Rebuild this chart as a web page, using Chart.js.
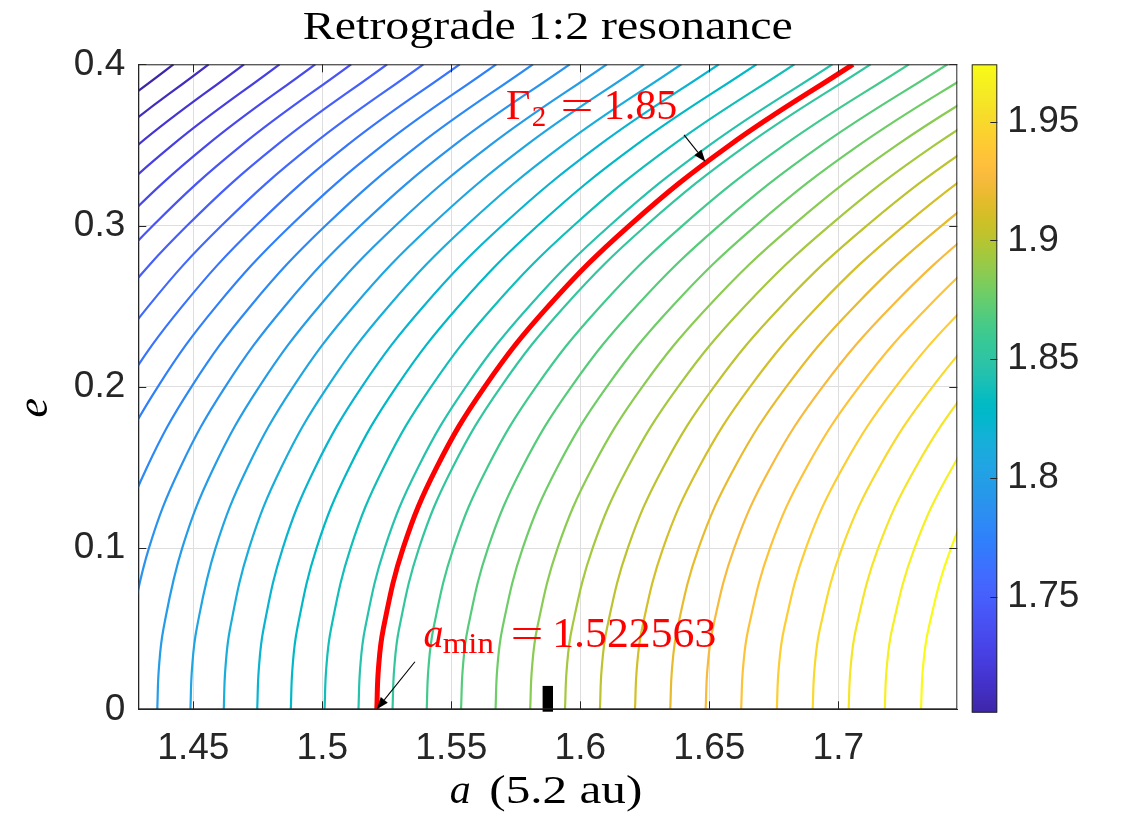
<!DOCTYPE html>
<html><head><meta charset="utf-8">
<script src="https://cdn.jsdelivr.net/npm/chart.js@4.4.0/dist/chart.umd.min.js"></script>
<style>
html,body{margin:0;padding:0;background:#fff;}
#wrap{position:relative;width:1132px;height:829px;overflow:hidden;background:#fff;}
#main{position:absolute;left:0;top:0;}
#cbar{position:absolute;left:950px;top:0;}
</style></head><body>
<div id="wrap"><canvas id="main" width="1132" height="829"></canvas><canvas id="cbar" width="182" height="829"></canvas></div>
<script>
// ---------------- data ----------------
const titleText = 'Retrograde 1:2 resonance';
const eGrid = [0, 0.025, 0.05, 0.1, 0.15, 0.2, 0.25, 0.3, 0.35, 0.4];
// contour levels of Gamma_2 (35 levels)
const levels = [1.70114,1.70917,1.71720,1.72523,1.73325,1.74128,1.74931,1.75734,1.76537,1.77340,
  1.78142,1.78945,1.79748,1.80551,1.81354,1.82156,1.82959,1.83762,1.84565,1.85368,
  1.86170,1.86973,1.87776,1.88579,1.89382,1.90185,1.90987,1.91790,1.92593,1.93396,
  1.94199,1.95001,1.95804,1.96607,1.97410];
// semi-major axis of each contour at the eccentricities of eGrid
const contourA = [
 [1.28621,1.28675,1.28836,1.29485,1.30584,1.32157,1.34245,1.36900,1.40195,1.44229],
 [1.29838,1.29892,1.30055,1.30710,1.31819,1.33408,1.35515,1.38195,1.41521,1.45594],
 [1.31061,1.31116,1.31280,1.31941,1.33061,1.34664,1.36791,1.39497,1.42854,1.46965],
 [1.32289,1.32344,1.32510,1.33178,1.34308,1.35926,1.38073,1.40804,1.44193,1.48342],
 [1.33523,1.33579,1.33746,1.34420,1.35560,1.37194,1.39361,1.42117,1.45538,1.49726],
 [1.34763,1.34819,1.34988,1.35668,1.36819,1.38468,1.40655,1.43437,1.46890,1.51116],
 [1.36008,1.36065,1.36235,1.36922,1.38083,1.39747,1.41955,1.44762,1.48247,1.52512],
 [1.37260,1.37317,1.37489,1.38182,1.39354,1.41034,1.43261,1.46095,1.49611,1.53916],
 [1.38517,1.38575,1.38748,1.39447,1.40631,1.42325,1.44573,1.47433,1.50981,1.55326],
 [1.39779,1.39837,1.40013,1.40718,1.41912,1.43622,1.45890,1.48776,1.52357,1.56741],
 [1.41048,1.41107,1.41284,1.41995,1.43200,1.44926,1.47215,1.50127,1.53740,1.58164],
 [1.42322,1.42381,1.42560,1.43278,1.44494,1.46235,1.48545,1.51483,1.55129,1.59592],
 [1.43602,1.43662,1.43842,1.44567,1.45793,1.47550,1.49881,1.52845,1.56524,1.61028],
 [1.44887,1.44947,1.45129,1.45860,1.47098,1.48870,1.51222,1.54213,1.57925,1.62469],
 [1.46179,1.46240,1.46423,1.47161,1.48409,1.50198,1.52570,1.55588,1.59333,1.63918],
 [1.47476,1.47538,1.47722,1.48467,1.49726,1.51530,1.53924,1.56968,1.60746,1.65372],
 [1.48778,1.48840,1.49027,1.49777,1.51048,1.52868,1.55283,1.58354,1.62166,1.66832],
 [1.50087,1.50150,1.50338,1.51095,1.52377,1.54213,1.56649,1.59747,1.63592,1.68300],
 [1.51401,1.51464,1.51654,1.52418,1.53711,1.55563,1.58021,1.61146,1.65025,1.69773],
 [1.52721,1.52785,1.52976,1.53747,1.55051,1.56920,1.59398,1.62551,1.66464,1.71253],
 [1.54047,1.54111,1.54304,1.55082,1.56398,1.58282,1.60782,1.63962,1.67909,1.72740],
 [1.55378,1.55443,1.55638,1.56422,1.57749,1.59650,1.62171,1.65379,1.69360,1.74233],
 [1.56715,1.56780,1.56977,1.57768,1.59106,1.61023,1.63567,1.66802,1.70817,1.75732],
 [1.58058,1.58124,1.58322,1.59120,1.60470,1.62403,1.64969,1.68231,1.72281,1.77238],
 [1.59407,1.59474,1.59673,1.60478,1.61839,1.63789,1.66377,1.69667,1.73751,1.78751],
 [1.60761,1.60828,1.61030,1.61841,1.63214,1.65181,1.67790,1.71108,1.75227,1.80269],
 [1.62121,1.62189,1.62392,1.63210,1.64595,1.66578,1.69209,1.72556,1.76709,1.81794],
 [1.63487,1.63555,1.63760,1.64585,1.65982,1.67982,1.70635,1.74010,1.78198,1.83326],
 [1.64859,1.64928,1.65134,1.65966,1.67374,1.69391,1.72067,1.75470,1.79694,1.84864],
 [1.66236,1.66305,1.66514,1.67353,1.68772,1.70806,1.73504,1.76936,1.81195,1.86408],
 [1.67619,1.67689,1.67899,1.68745,1.70177,1.72227,1.74948,1.78408,1.82702,1.87959],
 [1.69007,1.69078,1.69289,1.70142,1.71586,1.73653,1.76396,1.79885,1.84215,1.89516],
 [1.70402,1.70473,1.70687,1.71547,1.73002,1.75087,1.77852,1.81370,1.85736,1.91080],
 [1.71802,1.71874,1.72089,1.72956,1.74423,1.76525,1.79314,1.82860,1.87262,1.92650],
 [1.73208,1.73280,1.73497,1.74371,1.75851,1.77970,1.80781,1.84356,1.88794,1.94227]
];
// highlighted contour Gamma_2 = 1.85
const redLevelText = '1.85';
const redA = [1.52111,1.52174,1.52365,1.53133,1.54432,1.56293,1.58762,1.61902,1.65799,1.70569];
// nominal resonance marker
const resonanceA = [1.5874, 1.5874];
const resonanceE = [-0.0015, 0.0145];
const aMinText = '1.522563';
// annotation anchors (data coordinates)
const gammaLabelAt = [1.5712, 0.3659];
const gammaArrow = [[1.6402, 0.3562], [1.6485, 0.3395]];
const aMinLabelAt = [1.5392, 0.0388];
const aMinArrow = [[1.5359, 0.0295], [1.5211, 0.0]];
// axes
const xRange = [1.428661, 1.746141];
const yRange = [0, 0.4];
const xTicks = [1.45, 1.5, 1.55, 1.6, 1.65, 1.7];
const xTickLabels = ['1.45', '1.5', '1.55', '1.6', '1.65', '1.7'];
const yTicks = [0, 0.1, 0.2, 0.3, 0.4];
const yTickLabels = ['0', '0.1', '0.2', '0.3', '0.4'];
const cbRange = [1.70114, 1.97410];
const cbTicks = [1.75, 1.8, 1.85, 1.9, 1.95];
const cbTickLabels = ['1.75', '1.8', '1.85', '1.9', '1.95'];

// ---------------- styling ----------------
const PARULA = [
[0.2422,0.1504,0.6603],[0.2504,0.1650,0.7076],[0.2578,0.1818,0.7511],[0.2647,0.1978,0.7952],
[0.2706,0.2147,0.8364],[0.2751,0.2342,0.8710],[0.2783,0.2559,0.8991],[0.2803,0.2782,0.9221],
[0.2813,0.3006,0.9414],[0.2810,0.3228,0.9579],[0.2795,0.3447,0.9717],[0.2760,0.3667,0.9829],
[0.2699,0.3892,0.9906],[0.2602,0.4123,0.9952],[0.2440,0.4358,0.9988],[0.2206,0.4603,0.9973],
[0.1963,0.4847,0.9892],[0.1834,0.5074,0.9798],[0.1786,0.5289,0.9682],[0.1764,0.5499,0.9520],
[0.1687,0.5703,0.9359],[0.1540,0.5902,0.9218],[0.1460,0.6091,0.9079],[0.1380,0.6276,0.8973],
[0.1248,0.6459,0.8883],[0.1113,0.6635,0.8763],[0.0952,0.6798,0.8598],[0.0689,0.6948,0.8394],
[0.0297,0.7082,0.8163],[0.0036,0.7203,0.7917],[0.0067,0.7312,0.7660],[0.0433,0.7411,0.7394],
[0.0964,0.7500,0.7120],[0.1408,0.7584,0.6842],[0.1717,0.7670,0.6554],[0.1938,0.7758,0.6251],
[0.2161,0.7843,0.5923],[0.2470,0.7918,0.5567],[0.2906,0.7973,0.5188],[0.3406,0.8008,0.4789],
[0.3909,0.8029,0.4354],[0.4456,0.8024,0.3909],[0.5044,0.7993,0.3480],[0.5616,0.7942,0.3045],
[0.6174,0.7876,0.2612],[0.6720,0.7793,0.2227],[0.7242,0.7698,0.1910],[0.7738,0.7598,0.1646],
[0.8203,0.7498,0.1535],[0.8634,0.7406,0.1596],[0.9035,0.7330,0.1774],[0.9393,0.7288,0.2100],
[0.9728,0.7298,0.2394],[0.9956,0.7434,0.2371],[0.9970,0.7659,0.2199],[0.9952,0.7893,0.2028],
[0.9892,0.8136,0.1885],[0.9786,0.8386,0.1766],[0.9676,0.8639,0.1643],[0.9610,0.8890,0.1537],
[0.9597,0.9135,0.1423],[0.9628,0.9373,0.1265],[0.9691,0.9606,0.1064],[0.9769,0.9839,0.0805]];
function rgbOf(c){return 'rgb('+Math.round(c[0]*255)+','+Math.round(c[1]*255)+','+Math.round(c[2]*255)+')';}
function parula(t){
  t = Math.max(0, Math.min(1, t));
  const f = t*(PARULA.length-1), i = Math.min(Math.floor(f), PARULA.length-2), u = f-i;
  const a = PARULA[i], b = PARULA[i+1];
  return rgbOf([a[0]+(b[0]-a[0])*u, a[1]+(b[1]-a[1])*u, a[2]+(b[2]-a[2])*u]);
}
const AX = '#262626';
const GRID = '#dedede';
const SANS = "'Liberation Sans', Arial, sans-serif";
const SERIF = "'Liberation Serif', 'Times New Roman', serif";
const TICK_FONT = {family: SANS, size: 37};

function pts(xs, ys){ return xs.map((v,i)=>({x:v, y:ys[i]})); }

const datasets = [];
datasets.push({data: pts(redA, eGrid), borderColor:'#ff0000', borderWidth:5, order:0, clip:0});
datasets.push({data: pts(resonanceA, resonanceE), borderColor:'#000000', borderWidth:10.4, tension:0, order:0, clip:false, borderCapStyle:'butt'});
levels.forEach((L,k)=>{
  datasets.push({data: pts(contourA[k], eGrid), borderColor: parula((L-cbRange[0])/(cbRange[1]-cbRange[0])), borderWidth:2.2, order:1, clip:0});
});

function drawArrow(ctx, x1, y1, x2, y2){
  const ang = Math.atan2(y2-y1, x2-x1), hl = 12, hw = 4.5;
  const bx = x2 - hl*Math.cos(ang), by = y2 - hl*Math.sin(ang);
  ctx.beginPath(); ctx.moveTo(x1,y1); ctx.lineTo(bx,by); ctx.stroke();
  ctx.beginPath(); ctx.moveTo(x2,y2);
  ctx.lineTo(bx + hw*Math.sin(ang), by - hw*Math.cos(ang));
  ctx.lineTo(bx - hw*Math.sin(ang), by + hw*Math.cos(ang));
  ctx.closePath(); ctx.fill();
}
function textAt(ctx, str, x, y, font, targetW, align){
  ctx.save(); ctx.font = font; ctx.textBaseline = 'alphabetic';
  const w = ctx.measureText(str).width;
  const sx = targetW ? targetW / w : 1;
  ctx.translate(x, y); ctx.scale(sx, 1);
  ctx.textAlign = align || 'left';
  ctx.fillText(str, 0, 0); ctx.restore();
}

const overlay = {
  id: 'overlay',
  afterDraw(chart){
    const {ctx, chartArea: ca, scales: {x, y}} = chart;
    ctx.save();
    // axes box + inward ticks
    ctx.strokeStyle = AX; ctx.lineWidth = 1;
    ctx.strokeRect(ca.left+0.5, ca.top+0.5, ca.right-ca.left-1, ca.bottom-ca.top-1);
    ctx.beginPath();
    const TL = 8;
    xTicks.forEach(v=>{ const p = Math.round(x.getPixelForValue(v))+0.5;
      ctx.moveTo(p, ca.bottom); ctx.lineTo(p, ca.bottom-TL); ctx.moveTo(p, ca.top); ctx.lineTo(p, ca.top+TL); });
    yTicks.forEach(v=>{ const p = Math.round(y.getPixelForValue(v))+0.5;
      ctx.moveTo(ca.left, p); ctx.lineTo(ca.left+TL, p); ctx.moveTo(ca.right, p); ctx.lineTo(ca.right-TL, p); });
    ctx.stroke();
    // arrows
    ctx.strokeStyle = '#000'; ctx.fillStyle = '#000'; ctx.lineWidth = 1.1;
    [gammaArrow, aMinArrow].forEach(ar=>{
      drawArrow(ctx, x.getPixelForValue(ar[0][0]), y.getPixelForValue(ar[0][1]), x.getPixelForValue(ar[1][0]), y.getPixelForValue(ar[1][1]));
    });
    // red annotations
    ctx.fillStyle = '#ff0000';
    let gx = x.getPixelForValue(gammaLabelAt[0]), gy = y.getPixelForValue(gammaLabelAt[1]);
    textAt(ctx, '\u0393', gx, gy, '42px '+SERIF);
    textAt(ctx, '2', gx+25.7, gy+6.7, '29px '+SERIF);
    textAt(ctx, '=', gx+54.4, gy, '42px '+SERIF, 33);
    textAt(ctx, redLevelText, gx+97.8, gy, '42px '+SERIF);
    let ax = x.getPixelForValue(aMinLabelAt[0]), ay = y.getPixelForValue(aMinLabelAt[1]);
    textAt(ctx, 'a', ax, ay, 'italic 42px '+SERIF, 20);
    textAt(ctx, 'min', ax+19.4, ay+6.6, '30px '+SERIF, 51);
    textAt(ctx, '=', ax+87.1, ay, '42px '+SERIF, 33);
    textAt(ctx, aMinText, ax+128.8, ay, '42px '+SERIF, 164);
    // title and axis labels
    ctx.fillStyle = '#000';
    const cx = (ca.left+ca.right)/2;
    textAt(ctx, titleText, cx, 39.3, '39px '+SERIF, 490, 'center');
    textAt(ctx, 'a', cx-98, 803.3, 'italic 40px '+SERIF, 21);
    textAt(ctx, '(5.2 au)', cx-58.5, 803.3, '39px '+SERIF, 153);
    ctx.save(); ctx.translate(47, (ca.top+ca.bottom)/2+21); ctx.rotate(-Math.PI/2);
    ctx.font = 'italic 44px '+SERIF; ctx.textAlign='center'; ctx.textBaseline='alphabetic';
    ctx.fillText('e', 0, 0); ctx.restore();
    ctx.restore();
  }
};

new Chart(document.getElementById('main'), {
  type: 'line',
  data: {datasets},
  options: {
    responsive: false, animation: false, devicePixelRatio: 1,
    layout: {padding: {left: 0, top: 64.3, right: 174.7, bottom: 0}},
    plugins: {legend: {display: false}, tooltip: {enabled: false}, title: {display: false}},
    elements: {point: {radius: 0, hoverRadius: 0}, line: {tension: 0.4, capBezierPoints: false, borderCapStyle: 'butt', fill: false}},
    events: [],
    scales: {
      x: {type: 'linear', min: xRange[0], max: xRange[1],
        afterBuildTicks: s => { s.ticks = xTicks.map(v => ({value: v})); },
        afterFit: s => { s.height = 829 - 709.3; },
        ticks: {callback: (v, i) => xTickLabels[i], font: TICK_FONT, color: AX, padding: 17, maxRotation: 0, autoSkip: false},
        grid: {color: GRID, lineWidth: 1, drawTicks: false},
        border: {display: true, color: AX, width: 1}},
      y: {type: 'linear', min: yRange[0], max: yRange[1],
        afterBuildTicks: s => { s.ticks = yTicks.map(v => ({value: v})); },
        afterFit: s => { s.width = 138.3; },
        ticks: {callback: (v, i) => yTickLabels[i], font: TICK_FONT, color: AX, padding: 13, autoSkip: false},
        grid: {color: GRID, lineWidth: 1, drawTicks: false},
        border: {display: true, color: AX, width: 1}}
    }
  },
  plugins: [overlay]
});

// ---------------- colorbar ----------------
const cbOverlay = {
  id: 'cbOverlay',
  afterDraw(chart){
    const {ctx, chartArea: ca, scales: {y}} = chart;
    ctx.save(); ctx.strokeStyle = AX; ctx.lineWidth = 1;
    ctx.strokeRect(ca.left+0.5, ca.top+0.5, ca.right-ca.left-1, ca.bottom-ca.top-1);
    ctx.beginPath();
    cbTicks.forEach(v=>{ const p = Math.round(y.getPixelForValue(v))+0.5; ctx.moveTo(ca.right, p); ctx.lineTo(ca.right-7, p); });
    ctx.stroke(); ctx.restore();
  }
};
new Chart(document.getElementById('cbar'), {
  type: 'bar',
  data: {labels: ['c'], datasets: [{
    data: [[cbRange[0], cbRange[1]]],
    backgroundColor: (c) => {
      const ch = c.chart, ca = ch.chartArea;
      if (!ca) return '#888';
      const g = ch.ctx.createLinearGradient(0, ca.bottom, 0, ca.top);
      PARULA.forEach((col, i) => g.addColorStop(i/(PARULA.length-1), rgbOf(col)));
      return g;
    },
    borderWidth: 0, barPercentage: 1, categoryPercentage: 1, inflateAmount: 0
  }]},
  options: {
    responsive: false, animation: false, devicePixelRatio: 1, events: [],
    layout: {padding: {left: 21.7, top: 64.3, right: 0, bottom: 116.3}},
    plugins: {legend: {display: false}, tooltip: {enabled: false}},
    scales: {
      x: {display: false},
      y: {position: 'right', min: cbRange[0], max: cbRange[1],
        afterBuildTicks: s => { s.ticks = cbTicks.map(v => ({value: v})); },
        afterFit: s => { s.width = 182 - 47.3; },
        ticks: {callback: (v, i) => cbTickLabels[i], font: TICK_FONT, color: AX, padding: 10, autoSkip: false},
        grid: {display: false, drawTicks: false},
        border: {display: false}}
    }
  },
  plugins: [cbOverlay]
});
</script>
</body></html>
